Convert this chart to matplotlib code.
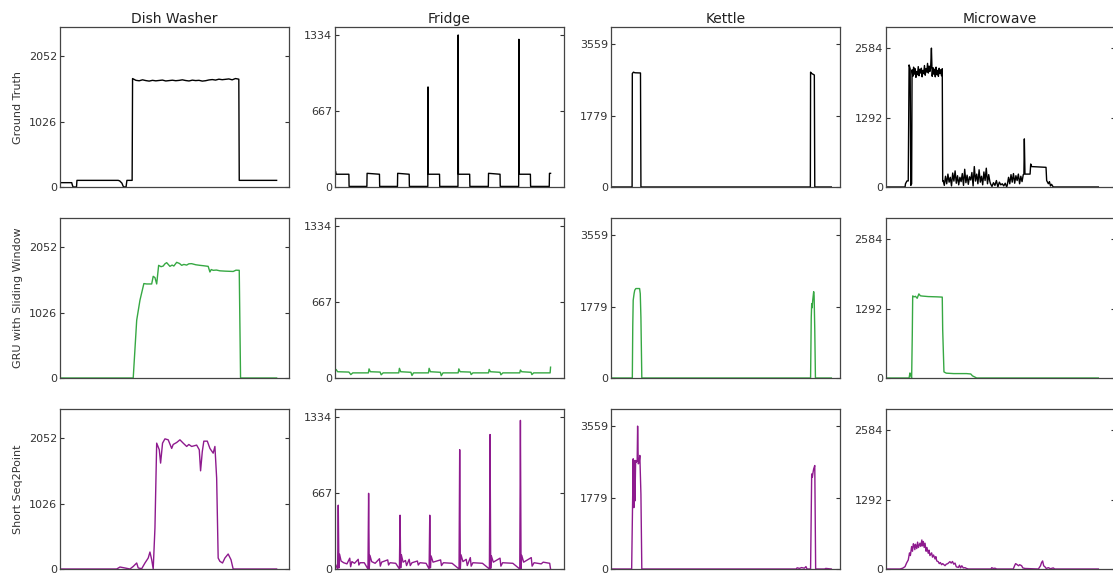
import numpy as np
import matplotlib
matplotlib.use('Agg')
import matplotlib.pyplot as plt

appliances = ['Dish Washer', 'Fridge', 'Kettle', 'Microwave']
models = ['Ground Truth', 'GRU with Sliding Window', 'Short Seq2Point']
line_colors = ['black', '#36a843', '#8e1a8e']

y_ticks = {
    'Dish Washer': [0, 1026, 2052],
    'Fridge': [0, 667, 1334],
    'Kettle': [0, 1779, 3559],
    'Microwave': [0, 1292, 2584],
}
y_top = {'Dish Washer': 2508, 'Fridge': 1404, 'Kettle': 3985, 'Microwave': 2977}
x_end = {'Dish Washer': 105.4, 'Fridge': 105.6, 'Kettle': 103.8, 'Microwave': 107.7}

# ---- Dish Washer ----
dw_gt_x = [0, 5.4, 5.6, 6.0, 7.6, 7.8, 26.8, 27.5, 28.5, 29.1, 29.6, 30.4, 30.8, 33.2]
dw_gt_y = [68, 68, 40, 0, 0, 104, 104, 95, 60, 10, 0, 0, 104, 104]
dw_gt_on = [1700, 1672, 1665, 1680, 1668, 1660, 1672, 1664, 1670, 1676, 1662, 1668,
            1674, 1666, 1671, 1680, 1669, 1662, 1675, 1668, 1672, 1660, 1666, 1678,
            1684, 1676, 1690, 1682, 1688, 1694, 1680, 1700, 1690]
dw_gt_tail_x = [82.5, 99.7]
dw_gt_tail_y = [104, 104]

dw_gru_x = [0, 33.7, 35.3, 36.8, 38.6, 39.9, 42.2, 42.9, 43.7, 44.5, 45.4, 46.5, 47.5,
            48.3, 49.1, 50.6, 51.6, 52.4, 53.7, 55.0, 56.0, 57.0, 58.3, 59.3, 60.6,
            62.5, 64.4, 66.0, 68.2, 69.0, 69.6, 70.5, 72.0, 73.6, 76.0, 79.7, 81.0,
            82.5, 83.1, 99.7]
dw_gru_y = [0, 0, 906, 1219, 1480, 1474, 1474, 1594, 1574, 1474, 1766, 1745, 1755,
            1790, 1808, 1750, 1770, 1755, 1813, 1795, 1766, 1780, 1770, 1790, 1792,
            1775, 1766, 1760, 1750, 1662, 1700, 1688, 1692, 1680, 1675, 1670, 1690,
            1688, 0, 0]

dw_s2p_x = [0, 26.1, 27.6, 29.9, 32.2, 33.7, 35.3, 36.0, 37.6, 39.1, 40.6, 41.4, 42.2,
            42.9, 43.7, 44.5, 45.7, 46.3, 47.2, 48.3, 49.8, 51.4, 52.1, 53.7, 55.2,
            56.7, 58.3, 59.3, 60.6, 62.9, 64.1, 64.7, 65.5, 66.2, 67.8, 69.0, 70.5,
            71.3, 72.1, 72.8, 73.6, 74.8, 75.9, 77.4, 78.7, 79.7, 99.7]
dw_s2p_y = [0, 0, 31, 16, 0, 40, 94, 16, 5, 94, 172, 266, 146, 0, 642, 1973, 1869,
            1660, 1973, 2040, 2025, 1890, 1952, 1983, 2025, 1973, 1921, 1952, 1921,
            1942, 1869, 1539, 1843, 2004, 2004, 1890, 1816, 1921, 1425, 172, 120, 94,
            172, 235, 146, 0, 0]

# ---- Fridge ----
fr_gt_x = [0, 0.2, 0.5, 6.4, 6.5, 14.7, 14.8, 20.5, 20.6, 28.8, 28.9, 34.2, 34.3,
           42.8, 42.9, 43.0, 48.2, 48.3, 56.7, 56.8, 56.9, 62.1, 62.2, 70.7, 70.8,
           76.1, 76.2, 84.7, 84.8, 84.9, 90.1, 90.2, 98.8, 98.9, 99.4]
fr_gt_y = [0, 140, 112, 112, 5, 5, 120, 112, 5, 5, 120, 112, 5,
           5, 878, 112, 112, 5, 5, 1334, 112, 112, 5, 5, 120,
           112, 5, 5, 1296, 112, 112, 5, 5, 120, 120]

fr_gru_x = [0.0, 0.5, 1.2, 6.4, 7.3, 8.2, 15.4, 15.7, 16.3, 20.8, 21.3, 22.2, 29.4,
            29.7, 30.3, 35.0, 35.5, 36.2, 43.1, 43.4, 44.0, 48.6, 49.0, 49.8, 56.8,
            57.1, 57.7, 62.4, 62.8, 63.6, 70.8, 71.1, 71.7, 76.1, 76.5, 77.4, 85.2,
            85.5, 86.1, 90.4, 90.8, 91.6, 99.2, 99.4]
fr_gru_y = [60, 75, 55, 52, 30, 45, 45, 80, 55, 52, 28, 45, 45,
            85, 55, 50, 22, 45, 45, 85, 55, 50, 20, 45, 45,
            80, 55, 52, 30, 45, 45, 75, 55, 50, 28, 45, 45,
            70, 55, 50, 30, 45, 45, 95]

fr_s2p_x = [0.0, 1.2, 1.5, 1.8, 2.1, 2.8, 4.0, 5.5, 6.8, 7.2, 7.8, 9.0, 10.7, 11.0,
            11.6, 13.5, 15.2, 15.5, 15.8, 16.1, 16.9, 18.5, 20.5, 20.9, 21.5, 24.3,
            24.7, 25.4, 28.0, 29.7, 30.0, 30.3, 30.6, 31.4, 32.5, 33.0, 34.2, 34.7,
            35.5, 38.0, 38.4, 39.2, 42.0, 43.4, 43.7, 44.0, 44.3, 45.2, 48.7, 49.1,
            50.0, 54.0, 57.2, 57.5, 57.8, 58.1, 59.0, 60.5, 61.0, 62.4, 62.8, 63.6,
            68.0, 71.2, 71.5, 71.8, 72.1, 73.0, 76.1, 76.5, 77.3, 82.0, 85.2, 85.5,
            85.8, 86.1, 87.0, 90.5, 90.9, 91.8, 95.1, 96.0, 99.0, 99.4]
fr_s2p_y = [50, 0, 560, 10, 130, 70, 55, 45, 95, 20, 65, 50, 85, 35,
            55, 55, 0, 664, 5, 120, 65, 50, 90, 25, 60, 80,
            35, 55, 50, 0, 472, 10, 125, 60, 75, 30, 85, 30,
            55, 70, 35, 55, 50, 0, 472, 10, 115, 60, 80, 30,
            55, 50, 0, 1047, 5, 125, 65, 85, 30, 100, 25, 55,
            50, 0, 1180, 5, 115, 60, 95, 25, 55, 50, 0, 1304,
            5, 120, 60, 100, 25, 55, 45, 60, 50, 0]

# ---- Kettle ----
kt_gt_x = [0, 9.7, 9.8, 10.3, 11.0, 13.5, 13.7, 90.5, 90.6, 91.0, 92.3, 92.5, 100]
kt_gt_y = [0, 0, 2826, 2860, 2845, 2840, 0, 0, 2860, 2830, 2790, 0, 0]

kt_gru_x = [0, 9.8, 10.0, 10.2, 10.6, 10.9, 11.4, 13.1, 13.4, 13.7, 14.1, 90.6, 90.9,
            91.1, 91.3, 91.6, 92.0, 92.2, 92.5, 92.8, 100]
kt_gru_y = [0, 0, 1300, 1938, 2100, 2187, 2228, 2228, 2100, 1500, 0, 0, 1500,
            1850, 1750, 1950, 2150, 2050, 1200, 0, 0]

kt_s2p_x = [0, 9.5, 10.2, 10.5, 10.7, 11.0, 11.3, 11.7, 12.0, 12.2, 12.5, 12.9, 13.2,
            13.7, 14.1, 84.1, 84.5, 85.6, 86.5, 87.8, 88.5, 89.0, 90.6, 91.1, 91.4,
            91.7, 92.0, 92.5, 92.9, 97.0, 97.5, 100]
kt_s2p_y = [0, 0, 2745, 1528, 2703, 1696, 2703, 2661, 2700, 3559, 2619, 2661, 2829,
            1863, 0, 0, 30, 15, 35, 20, 60, 0, 0, 2367, 2283,
            2400, 2493, 2577, 0, 0, 15, 0]

# ---- Microwave ----
mw_gt_head_x = [0, 9.1, 9.3, 10.0, 10.6, 11.0, 11.5, 11.8, 12.2]
mw_gt_head_y = [0, 0, 60, 113, 113, 2271, 2200, 30, 60]
mw_gt_on = [2180, 2060, 2230, 2100, 2200, 2040, 2150, 2090, 2240, 2070, 2190, 2120,
            2210, 2050, 2170, 2110, 2260, 2080, 2200, 2140, 2300, 2120, 2250, 2150,
            2220, 2584, 2060, 2220, 2100, 2190, 2050, 2230, 2090, 2170, 2060, 2210,
            2110, 2180, 2070, 2200]
mw_gt_low_a = [120, 30, 200, 60, 240, 90, 180, 20, 260, 110, 300, 70, 210, 40, 180,
               100, 250, 30, 330, 80, 220, 50, 190, 130, 270, 20, 380, 110, 240, 60,
               320, 90, 200, 40, 280, 120, 350, 60, 230, 100]
mw_gt_low_b = [60, 10, 80, 30, 120, 0, 90, 40, 60, 20, 70, 0]
mw_gt_low_c = [40, 180, 60, 230, 90, 250, 70, 210, 120, 240, 60, 200, 100, 230]
mw_gt_tail_x = [65.0, 65.2, 65.5, 67.9, 68.2, 68.6, 75.4, 75.7, 76.5, 77.0, 77.5, 78.0,
                78.8, 100]
mw_gt_tail_y = [240, 895, 240, 240, 428, 380, 366, 120, 60, 100, 20, 50, 0, 0]

mw_gru_x = [0, 11.0, 11.4, 11.8, 12.2, 12.5, 12.7, 13.3, 14.0, 14.8, 15.6, 16.3, 17.1,
            20.0, 24.0, 26.6, 26.8, 27.4, 28.5, 32.0, 38.0, 40.0, 40.8, 42.8, 100]
mw_gru_y = [0, 0, 94, 40, 0, 800, 1528, 1510, 1520, 1483, 1565, 1530, 1525,
            1515, 1510, 1505, 900, 113, 90, 82, 82, 75, 40, 0, 0]

mw_s2p_x = [0, 6.7, 8.0, 9.1, 9.8, 10.6, 11.2, 11.6, 12.2, 12.6, 13.0, 13.3, 13.7,
            14.0, 14.6, 15.0, 15.4, 16.1, 16.5, 17.0, 17.3, 17.7, 18.1, 18.5, 19.0,
            19.4, 20.0, 20.4, 20.8, 21.6, 22.0, 22.5, 23.2, 23.6, 24.0, 24.7, 25.2,
            25.7, 26.3, 26.8, 27.9, 28.5, 29.2, 30.2, 30.8, 31.4, 32.0, 32.6, 33.2,
            34.2, 34.7, 35.2, 35.8, 36.5, 37.3, 38.0, 38.9, 49.5, 49.9, 50.5, 51.4,
            52.2, 60.0, 60.6, 61.1, 61.6, 62.5, 63.0, 63.9, 64.5, 65.5, 71.8, 72.8,
            73.3, 73.8, 74.3, 74.9, 75.5, 76.5, 77.5, 78.8, 79.5, 100]
mw_s2p_y = [0, 0, 15, 44, 110, 168, 300, 250, 418, 330, 470, 449, 360,
            460, 380, 500, 400, 480, 420, 540, 430, 512, 400, 480, 330,
            400, 293, 350, 250, 300, 220, 260, 187, 230, 150, 137, 100,
            120, 80, 100, 62, 90, 100, 137, 110, 140, 90, 110, 40,
            30, 70, 20, 60, 20, 25, 10, 0, 0, 25, 10, 15,
            0, 0, 60, 100, 87, 60, 80, 62, 20, 10, 0, 60,
            120, 150, 60, 40, 10, 25, 5, 20, 0, 0]


def spread(x0, x1, vals):
    # evenly spaced samples of a typed noisy stretch
    return list(np.linspace(x0, x1, len(vals))), list(vals)


def join(*parts):
    xs, ys = [], []
    for px, py in parts:
        xs += list(px)
        ys += list(py)
    return xs, ys


series = {
    ('Dish Washer', 0): join((dw_gt_x, dw_gt_y), spread(33.4, 82.3, dw_gt_on),
                             (dw_gt_tail_x, dw_gt_tail_y)),
    ('Dish Washer', 1): (dw_gru_x, dw_gru_y),
    ('Dish Washer', 2): (dw_s2p_x, dw_s2p_y),
    ('Fridge', 0): (fr_gt_x, fr_gt_y),
    ('Fridge', 1): (fr_gru_x, fr_gru_y),
    ('Fridge', 2): (fr_s2p_x, fr_s2p_y),
    ('Kettle', 0): (kt_gt_x, kt_gt_y),
    ('Kettle', 1): (kt_gru_x, kt_gru_y),
    ('Kettle', 2): (kt_s2p_x, kt_s2p_y),
    ('Microwave', 0): join((mw_gt_head_x, mw_gt_head_y), spread(12.4, 26.6, mw_gt_on),
                           ([26.8], [113]), spread(27.0, 49.0, mw_gt_low_a),
                           spread(49.3, 56.9, mw_gt_low_b), spread(57.2, 64.7, mw_gt_low_c),
                           (mw_gt_tail_x, mw_gt_tail_y)),
    ('Microwave', 1): (mw_gru_x, mw_gru_y),
    ('Microwave', 2): (mw_s2p_x, mw_s2p_y),
}

W, H = 1113, 576
fig = plt.figure(figsize=(W / 100, H / 100), dpi=100)

col_left = [60, 335, 610.7, 885.7]
col_width = 229
row_top = [27, 218, 409]
row_height = 160

for r, model in enumerate(models):
    for c, app in enumerate(appliances):
        rect = [col_left[c] / W, 1 - (row_top[r] + row_height) / H,
                col_width / W, row_height / H]
        ax = fig.add_axes(rect)
        x, y = series[(app, r)]
        ax.plot(x, y, color=line_colors[r], lw=1.0)
        ax.set_xlim(0, x_end[app])
        ax.set_ylim(0, y_top[app])
        ax.set_xticks([])
        ax.set_yticks(y_ticks[app])
        ax.set_yticklabels([str(v) for v in y_ticks[app]])
        ax.tick_params(axis='y', direction='in', length=3, width=0.8,
                       left=True, right=True, labelsize=8, colors='#333333',
                       pad=2)
        for s in ax.spines.values():
            s.set_color('#444444')
            s.set_linewidth(0.9)
        if r == 0:
            ax.set_title(app, fontsize=10, pad=3, color='#222222')
        if c == 0:
            ax.set_ylabel(model, fontsize=8, color='#333333')

fig.savefig('out.png', dpi=100)
